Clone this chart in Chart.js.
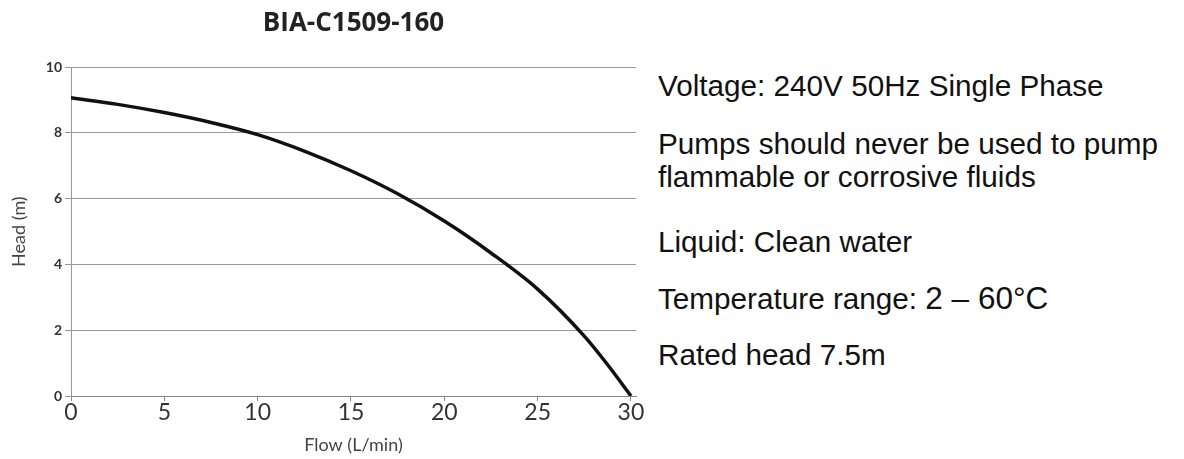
<!DOCTYPE html>
<html>
<head>
<meta charset="utf-8">
<script src="https://cdn.jsdelivr.net/npm/chart.js@4"></script>
<style>
  body { margin: 0; background: #fff; }
  #wrap { position: relative; width: 1184px; height: 459px; }
  #chartBox { position: absolute; left: 0; top: 0; width: 650px; height: 459px; }
  .info { position: absolute; left: 658px; font-family: "Liberation Sans", Arial, sans-serif;
          font-size: 29.7px; line-height: 33px; color: #111; white-space: nowrap; }
  .big { font-size: 31.5px; }
</style>
</head>
<body>
<div id="wrap">
  <div id="chartBox"><canvas id="pumpChart"></canvas></div>
  <div class="info" style="top:69px">Voltage: 240V 50Hz Single Phase</div>
  <div class="info" style="top:127px">Pumps should never be used to pump<br>flammable or corrosive fluids</div>
  <div class="info" style="top:225px">Liquid: Clean water</div>
  <div class="info" style="top:282px">Temperature range: <span class="big">2 – 60°C</span></div>
  <div class="info" style="top:338px">Rated head 7.5m</div>
</div>
<script>
// pump curve
const flow = [0, 2.5, 5, 7.5, 10, 12.5, 15, 17.5, 20, 22.5, 25, 27.5, 28.75, 30];
const head = [9.07, 8.87, 8.62, 8.32, 7.95, 7.45, 6.85, 6.15, 5.32, 4.35, 3.25, 1.82, 0.95, 0];
const xTicks = [0, 5, 10, 15, 20, 25, 30];
const yTicks = [0, 2, 4, 6, 8, 10];

const ctx = document.getElementById('pumpChart').getContext('2d');

new Chart(ctx, {
  type: 'line',
  data: {
    datasets: [{
      label: 'BIA-C1509-160',
      data: flow.map((f, i) => ({ x: f, y: head[i] })),
      borderColor: '#111',
      borderWidth: 3.5,
      pointRadius: 0,
      cubicInterpolationMode: 'monotone',
      fill: false
    }]
  },
  options: {
    responsive: true,
    maintainAspectRatio: false,
    animation: false,
    layout: { padding: { left: 8, right: 14, top: 0, bottom: 3 } },
    plugins: {
      legend: { display: false },
      tooltip: { enabled: false },
      title: {
        display: true,
        fullSize: false,
        text: 'BIA-C1509-160',
        color: '#222',
        font: { family: 'Open Sans', size: 26, weight: 'bold' },
        padding: { top: 8, bottom: 28 }
      }
    },
    scales: {
      x: {
        type: 'linear',
        min: 0,
        max: 30.27,
        afterBuildTicks: s => { s.ticks = xTicks.map(v => ({ value: v })); },
        afterFit: s => { s.height = 60; },
        border: { color: '#888', width: 1 },
        grid: { display: true, drawOnChartArea: false, drawTicks: true, tickLength: 5, color: '#888' },
        ticks: { color: '#333', font: { family: 'Lato', size: 23 }, padding: -2 },
        title: { display: true, text: 'Flow (L/min)', color: '#444', font: { family: 'Lato', size: 18 }, padding: 0 }
      },
      y: {
        min: 0,
        max: 10,
        afterBuildTicks: s => { s.ticks = yTicks.map(v => ({ value: v })); },
        afterFit: s => { s.width = 63; },
        border: { color: '#999', width: 1 },
        grid: { color: '#999', lineWidth: 1, tickLength: 6 },
        ticks: { color: '#333', font: { family: 'Lato', size: 14, weight: 'bold' }, padding: 3 },
        title: { display: true, text: 'Head (m)', color: '#444', font: { family: 'Lato', size: 18 }, padding: 0 }
      }
    }
  }
});
</script>
</body>
</html>
